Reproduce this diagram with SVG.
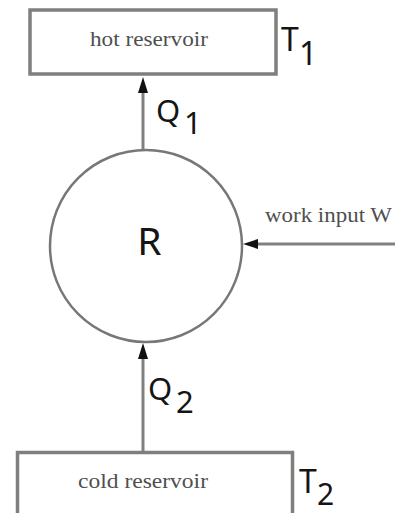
<svg xmlns="http://www.w3.org/2000/svg" width="395" height="513" viewBox="0 0 395 513">
<style>
.box{fill:#fff;stroke:#7f7f7f;stroke-width:3.5}
.ring{fill:#fff;stroke:#777;stroke-width:2.5}
.lbl{font-family:"Liberation Serif","Times New Roman",serif;font-size:22px;fill:#4f4f4f}
.sym{font-family:"Noto Sans","Liberation Sans",sans-serif;fill:#151515}
.line{stroke:#808080;stroke-width:3;fill:none}
</style>
<rect width="395" height="513" fill="#fff"/>
<g id="connectors">
<line class="line" x1="143" y1="150" x2="143" y2="92"/>
<path d="M143,77 L138,93 L148,93 z" fill="#111"/>
<line class="line" x1="143" y1="452" x2="143" y2="359"/>
<path d="M143,343 L138,359 L148,359 z" fill="#111"/>
<line class="line" x1="395" y1="244" x2="257" y2="244"/>
<path d="M243,244 L258,239 L258,249 z" fill="#111"/>
</g>
<g id="hot-reservoir">
<rect class="box" x="30" y="10" width="246" height="64"/>
<text class="lbl" x="90" y="46" textLength="118" lengthAdjust="spacingAndGlyphs">hot reservoir</text>
<text class="sym" x="281" y="51" font-size="32">T</text>
<text class="sym" x="299" y="65" font-size="32">1</text>
</g>
<g id="refrigerator">
<circle class="ring" cx="146" cy="246" r="96"/>
<text class="sym" x="149.5" y="255" font-size="39" text-anchor="middle">R</text>
</g>
<g id="cold-reservoir">
<rect class="box" x="17.5" y="452.5" width="275" height="80"/>
<text class="lbl" x="78" y="488" textLength="130" lengthAdjust="spacingAndGlyphs">cold reservoir</text>
<text class="sym" x="299" y="493" font-size="32">T</text>
<text class="sym" x="317" y="505" font-size="30">2</text>
</g>
<g id="labels">
<text class="sym" x="156" y="122" font-size="31">Q</text>
<text class="sym" x="184" y="134" font-size="31">1</text>
<text class="sym" x="148" y="400" font-size="31">Q</text>
<text class="sym" x="176" y="413" font-size="31">2</text>
<text class="lbl" x="265" y="222" textLength="127" lengthAdjust="spacingAndGlyphs">work input W</text>
</g>
</svg>
